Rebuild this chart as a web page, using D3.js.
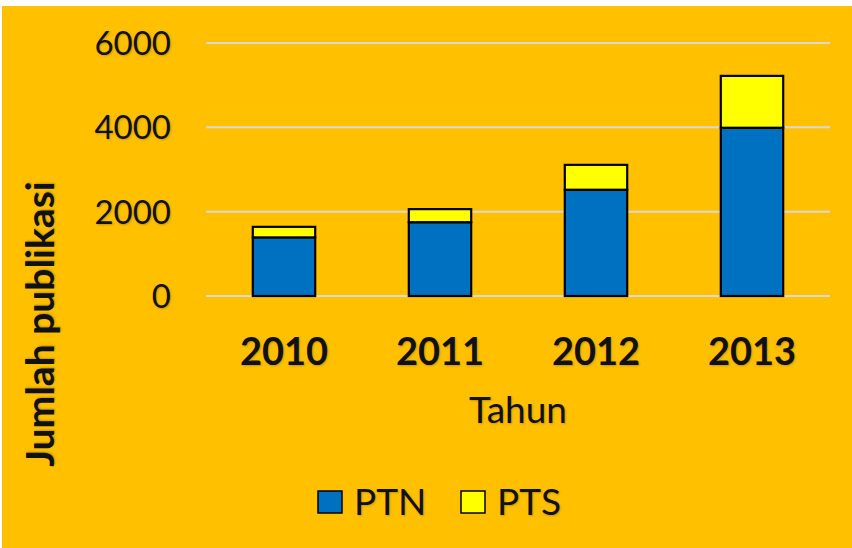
<!DOCTYPE html>
<html>
<head>
<meta charset="utf-8">
<script src="https://cdn.jsdelivr.net/npm/d3@7"></script>
<style>
  html, body { margin: 0; padding: 0; background: #fff; }
  svg text { font-family: Lato, "Open Sans", sans-serif; fill: #111; text-shadow: 1px 1px 2px rgba(0,0,0,0.22); }
</style>
</head>
<body>
<script>
const WIDTH = 852, HEIGHT = 548;
const BG = "#FFC000";
const PTN_COLOR = "#0070C0";
const PTS_COLOR = "#FFFF00";

// data
const years = ["2010", "2011", "2012", "2013"];
const ptn = [1390, 1750, 2520, 3990];
const pts = [250, 310, 590, 1230];
const yTicks = [0, 2000, 4000, 6000];
const seriesNames = ["PTN", "PTS"];

const margin = { top: 43, right: 22, bottom: 252, left: 206 };

const svg = d3.select("body").append("svg")
  .attr("width", WIDTH).attr("height", HEIGHT);

// background panel
svg.append("rect")
  .attr("x", 2).attr("y", 6)
  .attr("width", WIDTH - 2).attr("height", HEIGHT - 6)
  .attr("fill", BG);

const x = d3.scaleBand()
  .domain(years)
  .range([margin.left, WIDTH - margin.right])
  .paddingInner(0.6).paddingOuter(0.3);

const y = d3.scaleLinear()
  .domain([0, 6000])
  .range([HEIGHT - margin.bottom, margin.top]);

// gridlines
svg.append("g")
  .selectAll("line")
  .data(yTicks).enter()
  .append("line")
  .attr("x1", margin.left).attr("x2", WIDTH - margin.right)
  .attr("y1", d => y(d)).attr("y2", d => y(d))
  .attr("stroke", "#D9D9D9")
  .attr("stroke-width", 2);

// y tick labels
svg.append("g")
  .selectAll("text")
  .data(yTicks).enter()
  .append("text")
  .attr("x", 171)
  .attr("y", d => y(d))
  .attr("dy", "0.36em")
  .attr("text-anchor", "end")
  .attr("font-size", 33)
  .text(d => d);

// stacked bars
const rows = years.map((yr, i) => ({ year: yr, PTN: ptn[i], PTS: pts[i] }));
const stack = d3.stack().keys(seriesNames)(rows);
const colors = { PTN: PTN_COLOR, PTS: PTS_COLOR };

svg.append("g")
  .selectAll("g")
  .data(stack).enter()
  .append("g")
  .attr("fill", d => colors[d.key])
  .selectAll("rect")
  .data(d => d).enter()
  .append("rect")
  .attr("x", d => x(d.data.year))
  .attr("width", x.bandwidth())
  .attr("y", d => y(d[1]))
  .attr("height", d => y(d[0]) - y(d[1]))
  .attr("stroke", "#000")
  .attr("stroke-width", 2.2);

// year labels
svg.append("g")
  .selectAll("text")
  .data(years).enter()
  .append("text")
  .attr("x", d => x(d) + x.bandwidth() / 2)
  .attr("y", 365)
  .attr("text-anchor", "middle")
  .attr("font-size", 38)
  .attr("font-weight", "bold")
  .text(d => d);

// axis titles
svg.append("text")
  .attr("x", (margin.left + WIDTH - margin.right) / 2)
  .attr("y", 423)
  .attr("text-anchor", "middle")
  .attr("font-size", 37)
  .text("Tahun");

svg.append("text")
  .attr("transform", "translate(54,324) rotate(-90)")
  .attr("text-anchor", "middle")
  .attr("font-size", 39)
  .attr("font-weight", "bold")
  .text("Jumlah publikasi");

// legend
const legendX = [318, 461];
const leg = svg.append("g")
  .selectAll("g")
  .data(seriesNames).enter()
  .append("g")
  .attr("transform", (d, i) => `translate(${legendX[i]},491)`);

leg.append("rect")
  .attr("width", 24).attr("height", 22)
  .attr("fill", d => colors[d])
  .attr("stroke", "#000")
  .attr("stroke-width", 1.5);

leg.append("text")
  .attr("x", 36)
  .attr("y", 24)
  .attr("font-size", 37)
  .text(d => d);
</script>
</body>
</html>
